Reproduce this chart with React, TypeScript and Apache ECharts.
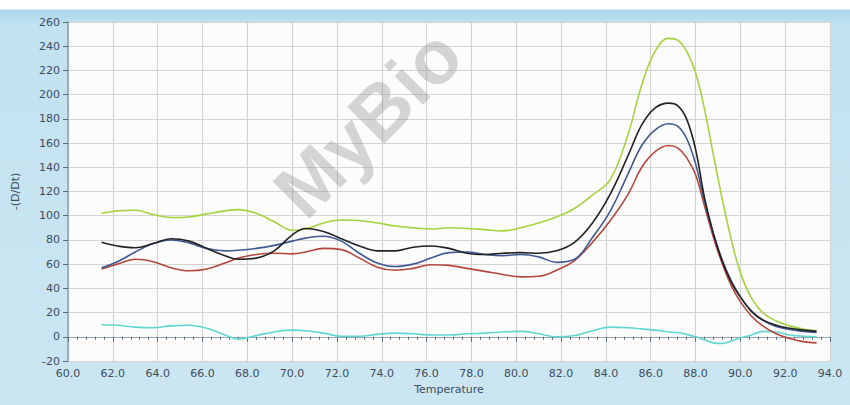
import React, { useEffect, useRef } from "react";
import * as echarts from "echarts";

const temps = [61.5, 62.2, 63, 63.8, 64.6, 65.4, 66.2, 67, 67.6, 68.4, 69.2, 70, 70.6, 71.4, 72.2, 73, 73.8, 74.6, 75.4, 76.2, 77, 77.8, 78.6, 79.4, 80.2, 81, 81.8, 82.6, 83.4, 84.2, 85, 85.6, 86.2, 86.8, 87.2, 87.6, 88, 88.4, 88.8, 89.2, 89.6, 90, 90.5, 91, 91.6, 92.2, 92.8, 93.4];

const greenVals = [102, 104, 104.5, 101, 98.5, 99, 101.5, 104, 105, 102, 95, 88, 89, 94, 96.5, 96, 94, 91.5, 90, 89, 90, 89.5, 88.5, 87.5, 90, 94, 99, 106, 117, 130, 168, 208, 236, 246.5, 245, 236, 218, 188, 150, 113, 80, 53, 32, 20, 13, 9, 6.5, 5];
const blackVals = [78, 75, 73.5, 77, 81, 79, 73, 67, 64, 65, 71, 84, 89.5, 87, 81, 75, 71, 71, 74, 75, 73, 69, 68, 69, 69.5, 69, 71, 78, 94, 118, 150, 175, 189, 193, 191, 180, 155, 115, 85, 62, 45, 33, 21, 14, 9.5, 7, 5.5, 4.5];
const blueVals = [57, 62, 70, 77, 80, 77.5, 73, 71, 71.5, 73, 75.5, 79, 81.5, 83, 79, 69, 61, 58, 60, 65, 69.5, 70, 68, 67, 68, 66, 61.5, 64, 82, 104, 135, 158, 171, 176, 174, 164, 143, 112, 85, 63, 46, 33, 21, 13.5, 8.5, 6, 4.5, 3.5];
const redVals = [56, 60, 64, 62, 57, 54.5, 56, 61, 65, 68, 69, 68.5, 70, 73, 72, 65, 57.5, 55, 56.5, 59.5, 59, 56.5, 54, 51.5, 49.5, 50, 55, 63, 78, 96, 118, 140, 153, 158, 156, 148, 134, 108, 82, 60, 42, 29, 17, 9, 2.5, -1.5, -4, -5];
const cyanVals = [10, 9.5, 8, 7.5, 9, 9.5, 7, 1.5, -2, 1, 4, 5.5, 5, 3, 0.5, 0.5, 2, 3, 2.5, 1.5, 1.5, 2.5, 3, 4, 4.5, 2.5, 0, 1, 5, 8, 7.5, 6.5, 5.5, 4, 3.5, 2, 0, -2.5, -5, -5.5, -3.5, -1, 1.5, 4.5, 4, 1.5, 0.5, 0];

const seriesDefs = [
  { name: "S1", values: greenVals, color: "#a6d23e" },
  { name: "S2", values: cyanVals, color: "#5fd6d0" },
  { name: "S3", values: redVals, color: "#b4473c" },
  { name: "S4", values: blueVals, color: "#3f5a92" },
  { name: "S5", values: blackVals, color: "#222226" },
];

const xMin = 60;
const xMax = 94;
const yMin = -20;
const yMax = 260;

export default function App() {
  const ref = useRef<HTMLDivElement>(null);
  useEffect(() => {
    if (!ref.current) return;
    const chart = echarts.init(ref.current, undefined, { renderer: "svg" });
    const labelColor = "#3e4c60";
    chart.setOption({
      animation: false,
      backgroundColor: {
        type: "linear",
        x: 0, y: 0, x2: 0, y2: 1,
        colorStops: [
          { offset: 0, color: "#ffffff" },
          { offset: 0.022, color: "#ffffff" },
          { offset: 0.025, color: "#a9d6ea" },
          { offset: 0.06, color: "#c2e2f0" },
          { offset: 1, color: "#cbe6f1" },
        ],
      },
      grid: {
        left: 68,
        right: 20,
        top: 22,
        bottom: 44,
        show: true,
        backgroundColor: "#fcfcfc",
        borderWidth: 0,
      },
      xAxis: {
        type: "value",
        min: xMin,
        max: xMax,
        interval: 2,
        name: "Temperature",
        nameLocation: "middle",
        nameGap: 22,
        nameTextStyle: { color: labelColor, fontSize: 11, fontFamily: "DejaVu Sans" },
        axisLine: { show: true, lineStyle: { color: "#9aa8b4", width: 1 } },
        axisTick: { show: true, length: 5, lineStyle: { color: "#5a6a7a" } },
        minorTick: { show: true, splitNumber: 5, length: 3, lineStyle: { color: "#5a6a7a" } },
        axisLabel: {
          color: labelColor,
          fontSize: 11,
          fontFamily: "DejaVu Sans",
          margin: 7,
          formatter: (v: number) => v.toFixed(1),
        },
        splitLine: { show: true, lineStyle: { color: "#d4d4d4", width: 1.2 } },
      },
      yAxis: {
        type: "value",
        min: yMin,
        max: yMax,
        interval: 20,
        name: "-(D/Dt)",
        nameLocation: "middle",
        nameRotate: 90,
        nameGap: 47,
        nameTextStyle: { color: labelColor, fontSize: 11, fontFamily: "DejaVu Sans" },
        axisLine: { show: true, lineStyle: { color: "#8c9cab", width: 1.5 } },
        axisTick: { show: true, length: 5, lineStyle: { color: "#5a6a7a" } },
        axisLabel: { color: labelColor, fontSize: 11, fontFamily: "DejaVu Sans", margin: 8 },
        splitLine: { show: true, lineStyle: { color: "#d4d4d4", width: 1.2 } },
      },
      graphic: [
        {
          type: "text",
          x: 314,
          y: 230,
          rotation: Math.PI / 4,
          z: 1,
          silent: true,
          style: {
            text: "MyBio",
            font: "bold 76px 'Liberation Sans', Arial, sans-serif",
            fill: "rgba(140,140,140,0.36)",
            textVerticalAlign: "bottom",
          },
        },
      ],
      series: seriesDefs.map((s) => ({
        name: s.name,
        type: "line",
        smooth: 0.4,
        showSymbol: false,
        symbol: "none",
        z: 3,
        lineStyle: { color: s.color, width: 1.6 },
        data: temps.map((t, i) => [t, s.values[i]]),
      })),
    });
    return () => chart.dispose();
  }, []);
  return (
    <div
      ref={ref}
      style={{ position: "fixed", left: 0, top: 0, width: 850, height: 405 }}
    />
  );
}
